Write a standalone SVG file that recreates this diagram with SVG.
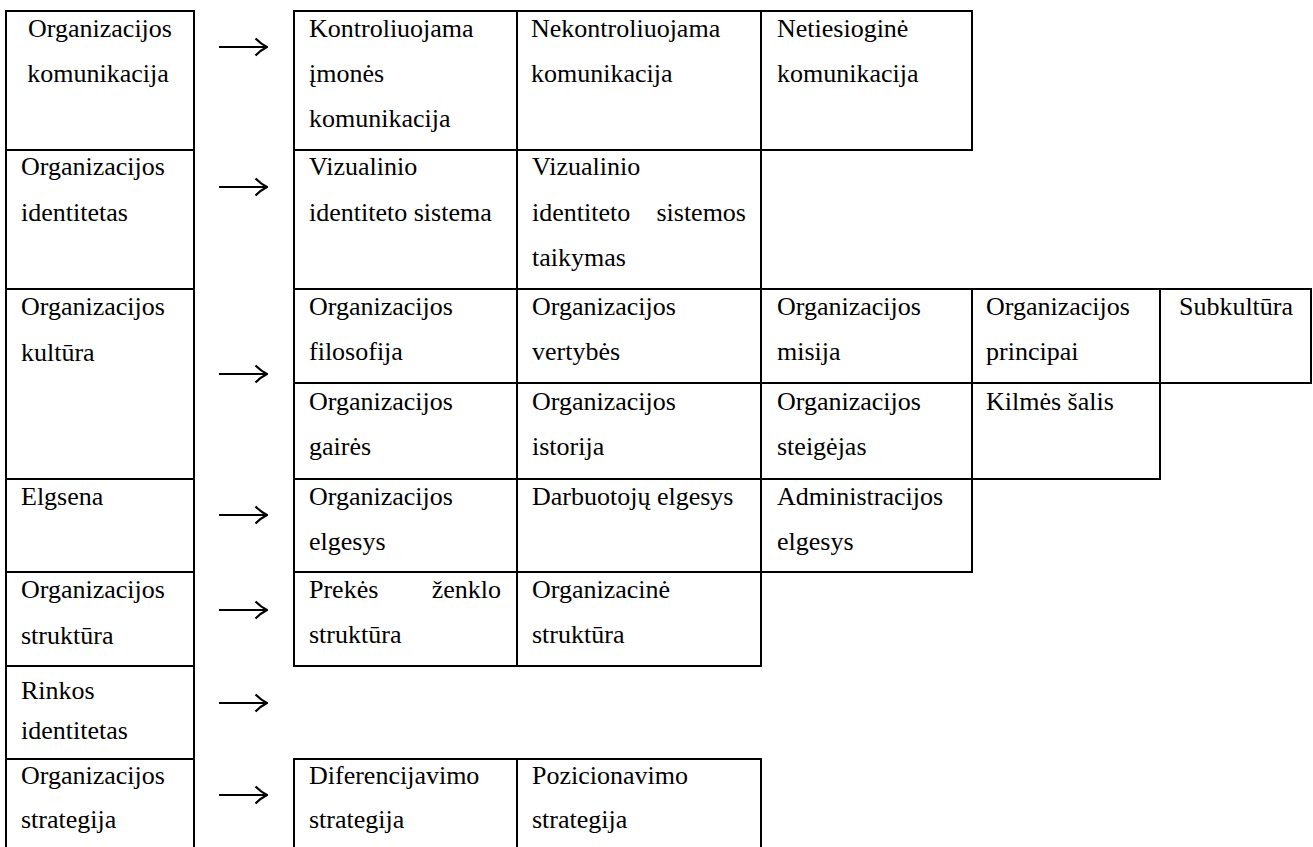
<svg xmlns="http://www.w3.org/2000/svg" width="1313" height="847" viewBox="0 0 1313 847">
  <style>
    .cell { fill: #fff; stroke: #000; stroke-width: 2; }
    .t { font-family: "Liberation Serif", "Times New Roman", serif; font-size: 26px; fill: #000; }
    .c { text-anchor: middle; }
    .e { text-anchor: end; }
    .arrow { stroke: #000; stroke-width: 2.2; fill: none; }
  </style>
  <defs>
    <marker id="head" viewBox="0 0 14 20" refX="13" refY="10" markerWidth="14" markerHeight="20" markerUnits="userSpaceOnUse" orient="auto">
      <path d="M1.5,1.5 Q7,7 13,10 Q7,13 1.5,18.5" fill="none" stroke="#000" stroke-width="2.2"/>
    </marker>
  </defs>
  <rect width="1313" height="847" fill="#fff"/>

  <!-- category column -->
  <g id="cat-komunikacija">
    <rect class="cell" x="6" y="11" width="188" height="139"/>
    <text class="t c" x="100" y="37">Organizacijos</text>
    <text class="t c" x="98" y="82">komunikacija</text>
  </g>
  <g id="cat-identitetas">
    <rect class="cell" x="6" y="150" width="188" height="139"/>
    <text class="t" x="21" y="175">Organizacijos</text>
    <text class="t" x="21" y="221">identitetas</text>
  </g>
  <g id="cat-kultura">
    <rect class="cell" x="6" y="289" width="188" height="190"/>
    <text class="t" x="21" y="315">Organizacijos</text>
    <text class="t" x="21" y="361">kultūra</text>
  </g>
  <g id="cat-elgsena">
    <rect class="cell" x="6" y="479" width="188" height="93"/>
    <text class="t" x="21" y="505">Elgsena</text>
  </g>
  <g id="cat-struktura">
    <rect class="cell" x="6" y="572" width="188" height="94"/>
    <text class="t" x="21" y="598">Organizacijos</text>
    <text class="t" x="21" y="644">struktūra</text>
  </g>
  <g id="cat-rinkos">
    <rect class="cell" x="6" y="666" width="188" height="93"/>
    <text class="t" x="21" y="699">Rinkos</text>
    <text class="t" x="21" y="739">identitetas</text>
  </g>
  <g id="cat-strategija">
    <rect class="cell" x="6" y="759" width="188" height="100"/>
    <text class="t" x="21" y="784">Organizacijos</text>
    <text class="t" x="21" y="828">strategija</text>
  </g>

  <!-- communication -->
  <g id="kontroliuojama">
    <rect class="cell" x="294" y="11" width="223" height="139"/>
    <text class="t" x="309" y="37">Kontroliuojama</text>
    <text class="t" x="309" y="82">įmonės</text>
    <text class="t" x="309" y="127">komunikacija</text>
  </g>
  <g id="nekontroliuojama">
    <rect class="cell" x="517" y="11" width="244" height="139"/>
    <text class="t" x="531" y="37">Nekontroliuojama</text>
    <text class="t" x="531" y="82">komunikacija</text>
  </g>
  <g id="netiesiogine">
    <rect class="cell" x="761" y="11" width="211" height="139"/>
    <text class="t" x="777" y="37">Netiesioginė</text>
    <text class="t" x="777" y="82">komunikacija</text>
  </g>

  <!-- identity -->
  <g id="vis-sistema">
    <rect class="cell" x="294" y="150" width="223" height="139"/>
    <text class="t" x="309" y="175">Vizualinio</text>
    <text class="t" x="309" y="221">identiteto sistema</text>
  </g>
  <g id="vis-taikymas">
    <rect class="cell" x="517" y="150" width="244" height="139"/>
    <text class="t" x="532" y="175">Vizualinio</text>
    <text class="t" x="532" y="221">identiteto</text>
    <text class="t e" x="746" y="221">sistemos</text>
    <text class="t" x="532" y="266">taikymas</text>
  </g>

  <!-- culture, first line -->
  <g id="filosofija">
    <rect class="cell" x="294" y="289" width="223" height="94"/>
    <text class="t" x="309" y="315">Organizacijos</text>
    <text class="t" x="309" y="360">filosofija</text>
  </g>
  <g id="vertybes">
    <rect class="cell" x="517" y="289" width="244" height="94"/>
    <text class="t" x="532" y="315">Organizacijos</text>
    <text class="t" x="532" y="360">vertybės</text>
  </g>
  <g id="misija">
    <rect class="cell" x="761" y="289" width="211" height="94"/>
    <text class="t" x="777" y="315">Organizacijos</text>
    <text class="t" x="777" y="360">misija</text>
  </g>
  <g id="principai">
    <rect class="cell" x="972" y="289" width="188" height="94"/>
    <text class="t" x="986" y="315">Organizacijos</text>
    <text class="t" x="986" y="360">principai</text>
  </g>
  <g id="subkultura">
    <rect class="cell" x="1160" y="289" width="151" height="94"/>
    <text class="t c" x="1236" y="315">Subkultūra</text>
  </g>

  <!-- culture, second line -->
  <g id="gaires">
    <rect class="cell" x="294" y="383" width="223" height="96"/>
    <text class="t" x="309" y="410">Organizacijos</text>
    <text class="t" x="309" y="455">gairės</text>
  </g>
  <g id="istorija">
    <rect class="cell" x="517" y="383" width="244" height="96"/>
    <text class="t" x="532" y="410">Organizacijos</text>
    <text class="t" x="532" y="455">istorija</text>
  </g>
  <g id="steigejas">
    <rect class="cell" x="761" y="383" width="211" height="96"/>
    <text class="t" x="777" y="410">Organizacijos</text>
    <text class="t" x="777" y="455">steigėjas</text>
  </g>
  <g id="kilmes-salis">
    <rect class="cell" x="972" y="383" width="188" height="96"/>
    <text class="t" x="986" y="410">Kilmės šalis</text>
  </g>

  <!-- behaviour -->
  <g id="org-elgesys">
    <rect class="cell" x="294" y="479" width="223" height="93"/>
    <text class="t" x="309" y="505">Organizacijos</text>
    <text class="t" x="309" y="550">elgesys</text>
  </g>
  <g id="darbuotoju-elgesys">
    <rect class="cell" x="517" y="479" width="244" height="93"/>
    <text class="t" x="532" y="505">Darbuotojų elgesys</text>
  </g>
  <g id="admin-elgesys">
    <rect class="cell" x="761" y="479" width="211" height="93"/>
    <text class="t" x="777" y="505">Administracijos</text>
    <text class="t" x="777" y="550">elgesys</text>
  </g>

  <!-- structure -->
  <g id="prekes-struktura">
    <rect class="cell" x="294" y="572" width="223" height="94"/>
    <text class="t" x="309" y="598">Prekės</text>
    <text class="t e" x="501" y="598">ženklo</text>
    <text class="t" x="309" y="643">struktūra</text>
  </g>
  <g id="organizacine-struktura">
    <rect class="cell" x="517" y="572" width="244" height="94"/>
    <text class="t" x="532" y="598">Organizacinė</text>
    <text class="t" x="532" y="643">struktūra</text>
  </g>

  <!-- strategy -->
  <g id="diferencijavimo">
    <rect class="cell" x="294" y="759" width="223" height="100"/>
    <text class="t" x="309" y="784">Diferencijavimo</text>
    <text class="t" x="309" y="828">strategija</text>
  </g>
  <g id="pozicionavimo">
    <rect class="cell" x="517" y="759" width="244" height="100"/>
    <text class="t" x="532" y="784">Pozicionavimo</text>
    <text class="t" x="532" y="828">strategija</text>
  </g>

  <!-- arrows from each category to its components -->
  <g id="connectors">
    <line class="arrow" x1="219" y1="47" x2="267" y2="47" marker-end="url(#head)"/>
    <line class="arrow" x1="219" y1="187" x2="267" y2="187" marker-end="url(#head)"/>
    <line class="arrow" x1="219" y1="374" x2="267" y2="374" marker-end="url(#head)"/>
    <line class="arrow" x1="219" y1="515" x2="267" y2="515" marker-end="url(#head)"/>
    <line class="arrow" x1="219" y1="610" x2="267" y2="610" marker-end="url(#head)"/>
    <line class="arrow" x1="219" y1="703" x2="267" y2="703" marker-end="url(#head)"/>
    <line class="arrow" x1="219" y1="795" x2="267" y2="795" marker-end="url(#head)"/>
  </g>
</svg>
